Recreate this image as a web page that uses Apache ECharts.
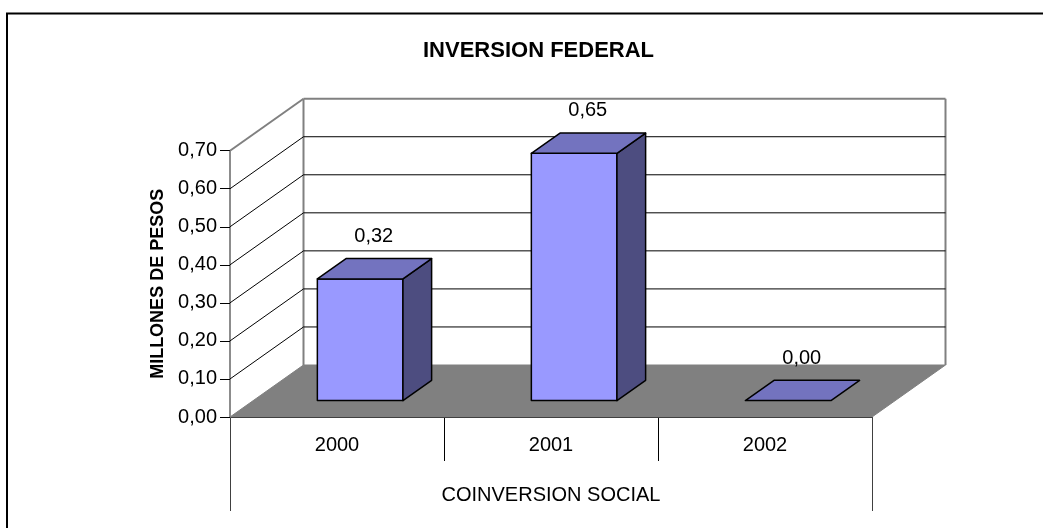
<!DOCTYPE html>
<html>
<head>
<meta charset="utf-8">
<script src="https://cdn.jsdelivr.net/npm/echarts@6/dist/echarts.min.js"></script>
<style>
  html, body { margin: 0; padding: 0; background: #fff; }
  #main { width: 1043px; height: 528px; }
</style>
</head>
<body>
<div id="main"></div>
<script>
const categories = ['2000', '2001', '2002'];
const groupLabel = ['COINVERSION SOCIAL'];
const values = [0.32, 0.65, 0.00];
const yTicks = [0, 0.1, 0.2, 0.3, 0.4, 0.5, 0.6, 0.7];

// 3D depth of the plot box (pixels), and where the bars sit inside it
const DX = 73.5, DY = -52;
const D0 = 0.315, D1 = 0.705;
const BAR_RATIO = 0.4;
const FONT = '"Liberation Sans", Arial, sans-serif';
const fmt = v => v.toFixed(2).replace('.', ',');

const chart = echarts.init(document.getElementById('main'));

// walls + floor, one item per y tick
function renderWall(params, api) {
  const cs = params.coordSys;
  const v = api.value(0);
  const y = api.coord([0, v])[1];
  const left = cs.x, right = cs.x + cs.width;
  const topV = yTicks[yTicks.length - 1];
  const children = [];
  if (v === 0) {
    const yTop = api.coord([0, topV])[1];
    children.push({
      type: 'polygon',
      shape: { points: [[left, y], [left + DX, y + DY], [right + DX, y + DY], [right, y]] },
      style: { fill: '#808080', stroke: '#808080', lineWidth: 1 }
    });
    // back wall verticals
    children.push({
      type: 'line',
      shape: { x1: left + DX, y1: yTop + DY, x2: left + DX, y2: y + DY },
      style: { stroke: '#808080', lineWidth: 2 }
    });
    children.push({
      type: 'line',
      shape: { x1: right + DX, y1: yTop + DY, x2: right + DX, y2: y + DY },
      style: { stroke: '#808080', lineWidth: 2 }
    });
  } else {
    const isTop = v === topV;
    const stroke = isTop ? '#808080' : '#000';
    const lw = isTop ? 2 : 1;
    children.push({
      type: 'line',
      shape: { x1: left, y1: y, x2: left + DX, y2: y + DY },
      style: { stroke: stroke, lineWidth: lw }
    });
    children.push({
      type: 'line',
      shape: { x1: left + DX, y1: y + DY, x2: right + DX, y2: y + DY },
      style: { stroke: stroke, lineWidth: lw }
    });
  }
  return { type: 'group', children: children };
}

function renderBar(params, api) {
  const i = api.value(0), v = api.value(1);
  const base = api.coord([i, 0]);
  const top = api.coord([i, v]);
  const w = api.size([1, 0])[0] * BAR_RATIO;
  const fx = DX * D0, fy = DY * D0;
  const bx = DX * (D1 - D0), by = DY * (D1 - D0);
  const x0 = base[0] - w / 2 + fx, x1 = base[0] + w / 2 + fx;
  const yt = top[1] + fy, yb = base[1] + fy;
  const edge = { stroke: '#000', lineWidth: 1.5, lineJoin: 'round' };
  const children = [];
  if (yb - yt > 0.5) {
    children.push({
      type: 'polygon',
      shape: { points: [[x0, yt], [x1, yt], [x1, yb], [x0, yb]] },
      style: Object.assign({ fill: '#9999FF' }, edge)
    });
    children.push({
      type: 'polygon',
      shape: { points: [[x1, yt], [x1 + bx, yt + by], [x1 + bx, yb + by], [x1, yb]] },
      style: Object.assign({ fill: '#4D4D80' }, edge)
    });
  }
  children.push({
    type: 'polygon',
    shape: { points: [[x0, yt], [x1, yt], [x1 + bx, yt + by], [x0 + bx, yt + by]] },
    style: Object.assign({ fill: '#7373BF' }, edge)
  });
  children.push({
    type: 'text',
    style: {
      text: fmt(v),
      x: base[0] + DX * 0.5,
      y: top[1] + DY * 0.5 - 33,
      align: 'center',
      verticalAlign: 'middle',
      fontSize: 20,
      fontFamily: FONT,
      fill: '#000'
    }
  });
  return { type: 'group', children: children };
}

const option = {
  animation: false,
  backgroundColor: '#fff',
  title: {
    text: 'INVERSION FEDERAL',
    left: 418,
    top: 35,
    textStyle: { fontFamily: FONT, fontSize: 22, fontWeight: 'bold', color: '#000' }
  },
  graphic: [
    {
      type: 'rect',
      shape: { x: 7, y: 13.5, width: 1100, height: 600 },
      style: { fill: 'none', stroke: '#000', lineWidth: 2 },
      z: -10
    }
  ],
  grid: { left: 230, right: 171, top: 150.7, bottom: 111, containLabel: false },
  xAxis: [
    {
      type: 'category',
      data: categories,
      position: 'bottom',
      axisLine: { show: true, lineStyle: { color: '#000', width: 1 } },
      axisTick: { show: true, length: 44, lineStyle: { color: '#000' } },
      axisLabel: { fontSize: 20, color: '#000', margin: 18, fontFamily: FONT },
      splitLine: { show: false }
    },
    {
      type: 'category',
      data: groupLabel,
      position: 'bottom',
      axisLine: { show: false },
      axisTick: { show: true, length: 94, lineStyle: { color: '#404040' } },
      axisLabel: { fontSize: 20, color: '#000', margin: 68, fontFamily: FONT },
      splitLine: { show: false }
    }
  ],
  yAxis: {
    type: 'value',
    min: 0,
    max: 0.7,
    interval: 0.1,
    name: 'MILLONES DE PESOS',
    nameLocation: 'middle',
    nameRotate: 90,
    nameGap: 62,
    nameTextStyle: { fontFamily: FONT, fontSize: 18, fontWeight: 'bold', color: '#000' },
    axisLine: { show: true, lineStyle: { color: '#666', width: 1.5 } },
    axisTick: { show: true, length: 10, lineStyle: { color: '#000' } },
    axisLabel: { fontSize: 20, color: '#000', margin: 13, fontFamily: FONT, formatter: fmt },
    splitLine: { show: false }
  },
  series: [
    {
      name: 'walls',
      type: 'custom',
      renderItem: renderWall,
      data: yTicks.map(v => [v]),
      encode: { y: 0 },
      silent: true,
      z: 1
    },
    {
      name: 'COINVERSION SOCIAL',
      type: 'custom',
      renderItem: renderBar,
      data: values.map((v, i) => [i, v]),
      encode: { x: 0, y: 1 },
      z: 3
    }
  ]
};

chart.setOption(option);
</script>
</body>
</html>
